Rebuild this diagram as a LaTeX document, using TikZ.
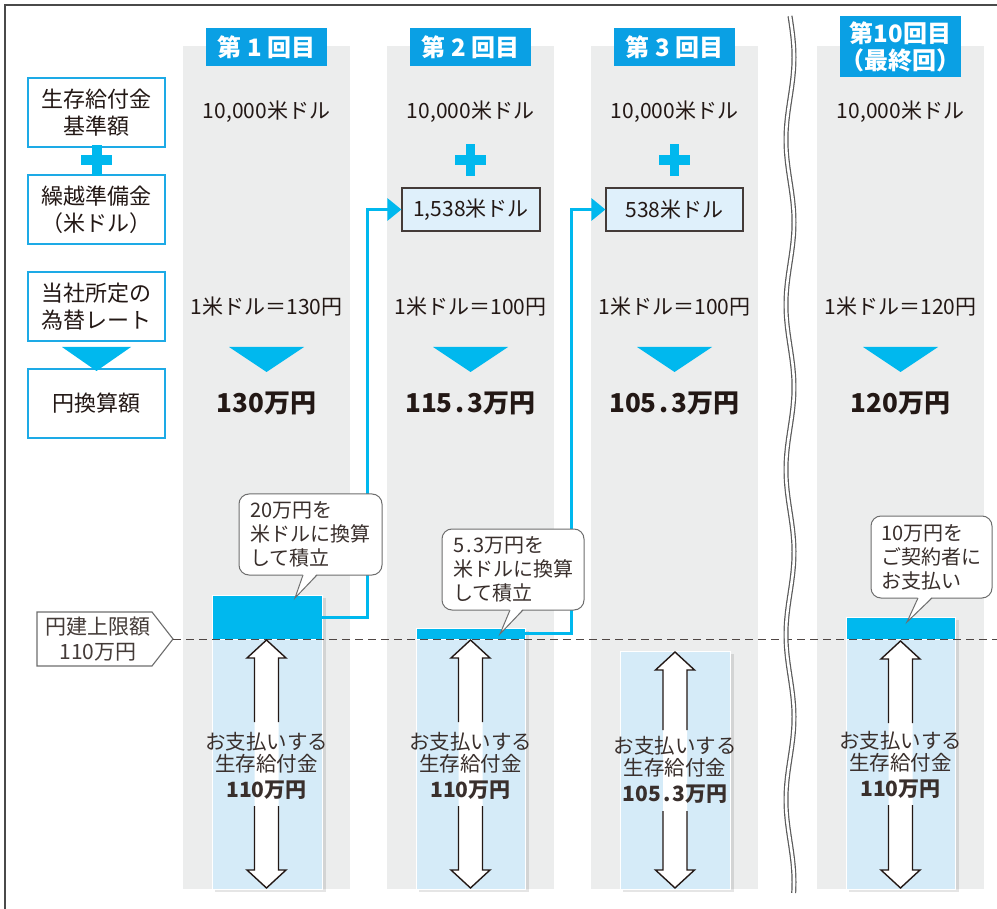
\documentclass[tikz,border=0pt]{standalone}
\usepackage{fontspec}
\setmainfont{Noto Sans CJK JP}
\usetikzlibrary{arrows.meta,calc}
\definecolor{colgray}{HTML}{ECEDED}
\definecolor{hdrblue}{HTML}{0AA0E4}
\definecolor{cyanA}{HTML}{00B8EE}
\definecolor{lightblk}{HTML}{D5EBF8}
\definecolor{boxcyan}{HTML}{1DAAE6}
\definecolor{ink}{HTML}{231815}
\definecolor{usdfill}{HTML}{DFF0FB}
\definecolor{framegray}{HTML}{4A4A4A}
\definecolor{callgray}{HTML}{6E6E6E}
\definecolor{wavegray}{HTML}{5A5A5A}
\newcommand\payarrow[5]{%
  \fill[white] (#1,#2) -- ++(19.5,18) -- ++(-7.5,0) -- (#1+12,#3-18) -- ++(7.5,0) -- (#1,#3) -- ++(-19.5,-18) -- ++(7.5,0) -- (#1-12,#2+18) -- ++(-7.5,0) -- cycle;
  \draw[arrline] (#1-12,#4) -- (#1-12,#2+18) -- ++(-7.5,0) -- (#1,#2) -- ++(19.5,18) -- ++(-7.5,0) -- (#1+12,#4);
  \draw[arrline] (#1-12,#5) -- (#1-12,#3-18) -- ++(-7.5,0) -- (#1,#3) -- ++(19.5,-18) -- ++(-7.5,0) -- (#1+12,#5);
}
\begin{document}
\begin{tikzpicture}[x=1pt,y=-1pt, font=\fontsize{21}{25}\selectfont, text=ink,
  hdr/.style={fill=hdrblue, text=white, font=\fontsize{24}{27}\selectfont\bfseries, inner sep=0pt, minimum width=121pt, align=center},
  lbl/.style={draw=boxcyan, line width=2.2pt, fill=white, minimum width=137pt, minimum height=69pt, inner sep=0pt, align=center, font=\fontsize{22}{27}\selectfont},
  usd/.style={draw=ink!85, line width=1.2pt, fill=usdfill, minimum height=43pt, inner sep=0pt},
  amount/.style={font=\fontsize{26}{30}\selectfont\bfseries},
  cyanblk/.style={fill=cyanA, draw=white, line width=0.8pt, inner sep=0pt},
  lightb/.style={fill=lightblk, draw=white, line width=0.8pt, inner sep=0pt},
  shadowb/.style={fill=black, opacity=0.10},
  conn/.style={draw=cyanA, line width=3pt, -{Triangle[length=14pt,width=22pt]}},
  arrline/.style={draw=ink, line width=1.4pt, line join=miter},
  paytext/.style={align=center, font=\fontsize{20.5}{22}\selectfont, text=ink!90},
  callout/.style={draw=callgray, line width=1pt, fill=white, rounded corners=10pt, align=left, inner sep=0pt, font=\fontsize{20}{24}\selectfont, text=ink!90},
  ptr/.style={draw=callgray, line width=1pt, line join=miter},
  limline/.style={draw=callgray, line width=1.1pt, fill=white},
  dashln/.style={draw=ink!80, line width=1pt, dash pattern=on 8pt off 5pt}
]
\useasboundingbox (0,0) rectangle (997,909);
\fill[white] (0,0) rectangle (997,909);
% frame
\draw[framegray, line width=2pt] (5,909) -- (5,5) -- (997,5);
% columns
\fill[colgray] (183,46) rectangle (350,889);
\fill[colgray] (387,46) rectangle (554,889);
\fill[colgray] (591,46) rectangle (758,889);
\fill[colgray] (817,46) rectangle (984,889);
% headers
\node[hdr, minimum height=38pt] (h1) at (266.5,47) {第 1 回目};
\node[hdr, minimum height=38pt] (h2) at (470.5,47) {第 2 回目};
\node[hdr, minimum height=38pt] (h3) at (674.5,47) {第 3 回目};
\node[hdr, minimum height=61pt] (h4) at (900.5,46.5) {第10回目\\（最終回）};
% left labels
\node[lbl] (l1) at (96.5,112.5) {生存給付金\\基準額};
\node[lbl] (l2) at (96.5,209.5) {繰越準備金\\（米ドル）};
\node[lbl] (l3) at (96.5,306.5) {当社所定の\\為替レート};
\node[lbl] (l4) at (96.5,403.5) {円換算額};
\fill[cyanA] (81,155) rectangle (112,165);
\fill[cyanA] (91.5,145) rectangle (101.5,176);
\fill[cyanA] (62,347) -- (131,347) -- (96.5,371) -- cycle;
% column contents
\foreach \cx in {266.5,470.5,674.5,900.5}{
  \node at (\cx,112) {10,000米ドル};
  \fill[cyanA] (\cx-37.5,347) -- (\cx+37.5,347) -- (\cx,372) -- cycle;
}
\foreach \cx in {470.5,674.5}{
  \fill[cyanA] (\cx-15.5,155) rectangle (\cx+15.5,165);
  \fill[cyanA] (\cx-4.5,144) rectangle (\cx+4.5,176);
}
\node[usd, minimum width=138pt] (usd2) at (471,209.5) {1,538米ドル};
\node[usd, minimum width=137pt] (usd3) at (674.5,209.5) {538米ドル};
\node (r1) at (266.5,307) {1米ドル＝130円};
\node (r2) at (470.5,307) {1米ドル＝100円};
\node (r3) at (674.5,307) {1米ドル＝100円};
\node (r4) at (900.5,307) {1米ドル＝120円};
\node[amount] (a1) at (266.5,403) {130万円};
\node[amount] (a2) at (470.5,403) {115\kern3pt.\kern3pt3万円};
\node[amount] (a3) at (674.5,403) {105\kern3pt.\kern3pt3万円};
\node[amount] (a4) at (900.5,403) {120万円};
% shadows
\fill[shadowb] (215,598) rectangle (326,892);
\fill[shadowb] (419,631) rectangle (529,892);
\fill[shadowb] (623,654) rectangle (734,892);
\fill[shadowb] (849,620) rectangle (959,892);
% blocks
\node[lightb, minimum width=110pt, minimum height=250pt] (b1l) at (267,764) {};
\node[cyanblk, minimum width=110pt, minimum height=44pt] (b1c) at (267,617) {};
\node[lightb, minimum width=109pt, minimum height=250pt] (b2l) at (470.5,764) {};
\node[cyanblk, minimum width=109pt, minimum height=11pt] (b2c) at (470.5,633.5) {};
\node[lightb, minimum width=110pt, minimum height=238pt] (b3l) at (675,770) {};
\node[lightb, minimum width=109pt, minimum height=250pt] (b4l) at (900.5,764) {};
\node[cyanblk, minimum width=109pt, minimum height=22pt] (b4c) at (900.5,628) {};
% connectors
\draw[conn] (b1c.east) -- ++(45,0) |- (usd2.west);
\draw[conn] (b2c.east) -- ++(46,0) |- (usd3.west);
% limit label and dashed line
\draw[limline] (37,612) -- (152,612) -- (173,639) -- (152,666) -- (37,666) -- cycle;
\node[align=center, font=\fontsize{21}{25}\selectfont, text=ink!85] (lim) at (98,639.5) {円建上限額\\110万円};
\coordinate (limtip) at (173,639);
\coordinate (dashend) at (997,639);
\draw[dashln] (limtip) -- (dashend);
% double arrows
\payarrow{266.5}{640}{888}{722}{806}
\payarrow{470.5}{640}{888}{722}{806}
\payarrow{675}{652}{888}{730}{811}
\payarrow{900.5}{641}{888}{723}{805}
\node[paytext] (p1) at (266.5,766) {お支払いする\\生存給付金\\[4pt]{\fontsize{21}{22}\selectfont\bfseries 110万円}};
\node[paytext] (p2) at (470.5,766) {お支払いする\\生存給付金\\[4pt]{\fontsize{21}{22}\selectfont\bfseries 110万円}};
\node[paytext] (p3) at (675,770) {お支払いする\\生存給付金\\[4pt]{\fontsize{21}{22}\selectfont\bfseries 105\kern2pt.\kern2pt3万円}};
\node[paytext] (p4) at (900.5,765) {お支払いする\\生存給付金\\[4pt]{\fontsize{21}{22}\selectfont\bfseries 110万円}};
% callouts
\node[callout, minimum width=143pt, minimum height=81pt] (c1) at (310.5,534.5) {20万円を\\米ドルに換算\\して積立};
\fill[white] (303,573.5) -- (295,598) -- (317,573.5) -- cycle;
\draw[ptr] (303,575) -- (295,598) -- (317,575);
\node[callout, minimum width=142pt, minimum height=81pt] (c2) at (513,569.5) {5\kern2pt.\kern2pt3万円を\\米ドルに換算\\して積立};
\fill[white] (510,608.5) -- (500,634) -- (523,608.5) -- cycle;
\draw[ptr] (510,610) -- (500,634) -- (523,610);
\node[callout, minimum width=121pt, minimum height=82pt] (c3) at (931.5,557) {10万円を\\ご契約者に\\お支払い};
\fill[white] (918,596.5) -- (907,622) -- (932,596.5) -- cycle;
\draw[ptr] (918,598) -- (907,622) -- (932,598);
% wavy break line
\draw[wavegray, line width=5pt] plot[smooth, samples=160, domain=16:893] ({790+4*sin((\x-16)*2.1818)}, \x);
\draw[white, line width=2.6pt] plot[smooth, samples=160, domain=14:895] ({790+4*sin((\x-16)*2.1818)}, \x);
\end{tikzpicture}
\end{document}
